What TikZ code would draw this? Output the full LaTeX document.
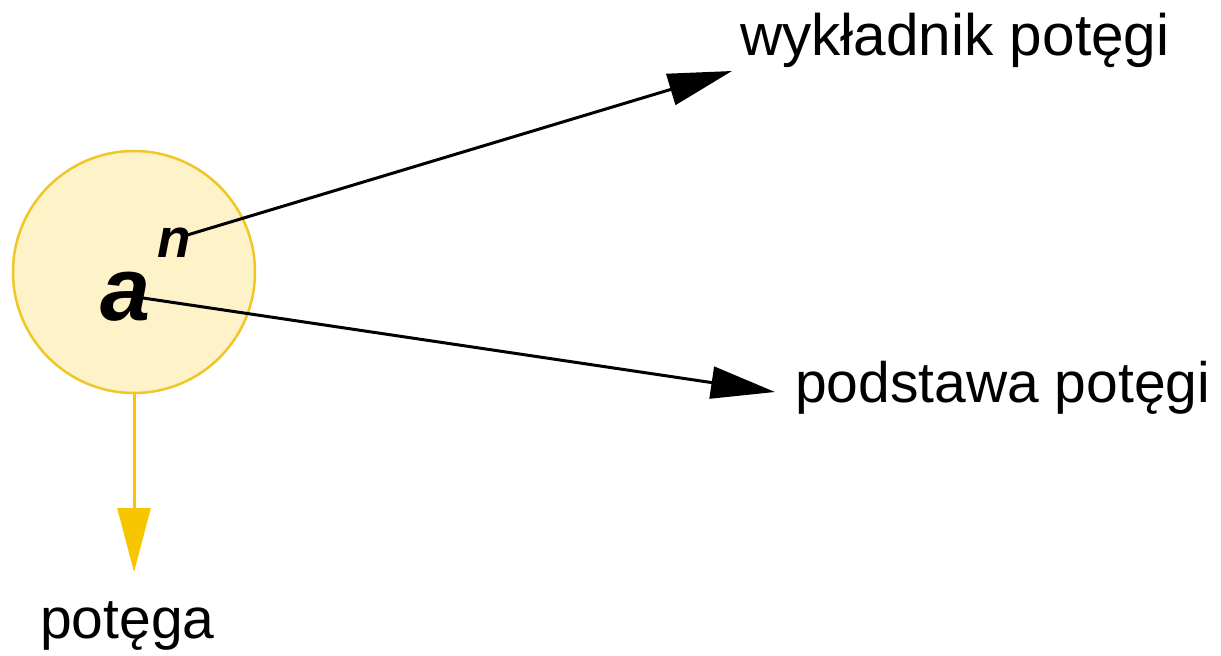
\documentclass[tikz,border=0pt]{standalone}
\usepackage{fontspec}
\setmainfont{Liberation Sans}
\usetikzlibrary{arrows.meta}
\definecolor{circfill}{RGB}{253,242,200}
\definecolor{circline}{RGB}{240,198,40}
\definecolor{goldarrow}{RGB}{247,198,0}
\tikzset{
  lbl/.style={anchor=base west, inner sep=0pt, font=\fontsize{57}{62}\selectfont},
  blackarrow/.style={line width=3pt, -{Triangle[length=64pt,width=32pt]}},
  goldconn/.style={line width=3pt, draw=goldarrow, -{Triangle[length=64pt,width=33pt]}, goldarrow},
}
\begin{document}
\begin{tikzpicture}[x=1pt,y=-1pt]
\useasboundingbox[fill=white] (0,0) rectangle (1221,656);
\node[circle, draw=circline, fill=circfill, line width=2.5pt, minimum size=242pt, inner sep=0pt] (c) at (134,272) {};
\node[anchor=base west, inner sep=0pt, font=\fontsize{90}{94}\selectfont\bfseries\itshape] (a) at (100,320) {a};
\node[anchor=base west, inner sep=0pt, font=\fontsize{55}{58}\selectfont\bfseries\itshape] (n) at (157,257) {n};
\coordinate (ns) at (184,236);
\coordinate (as) at (143,298);
\node[lbl, font=\fontsize{58.5}{62}\selectfont] (w) at (740,55) {wykładnik potęgi};
\node[lbl] (p) at (795,402) {podstawa potęgi};
\node[lbl] (q) at (40,638) {potęga};
\coordinate (wt) at (732,71);
\coordinate (pt) at (775,392);
\coordinate (qt) at (134,572);
\draw[blackarrow] (ns) -- (wt);
\draw[blackarrow] (as) -- (pt);
\draw[goldconn] (c.south) -- (qt);
\end{tikzpicture}
\end{document}
